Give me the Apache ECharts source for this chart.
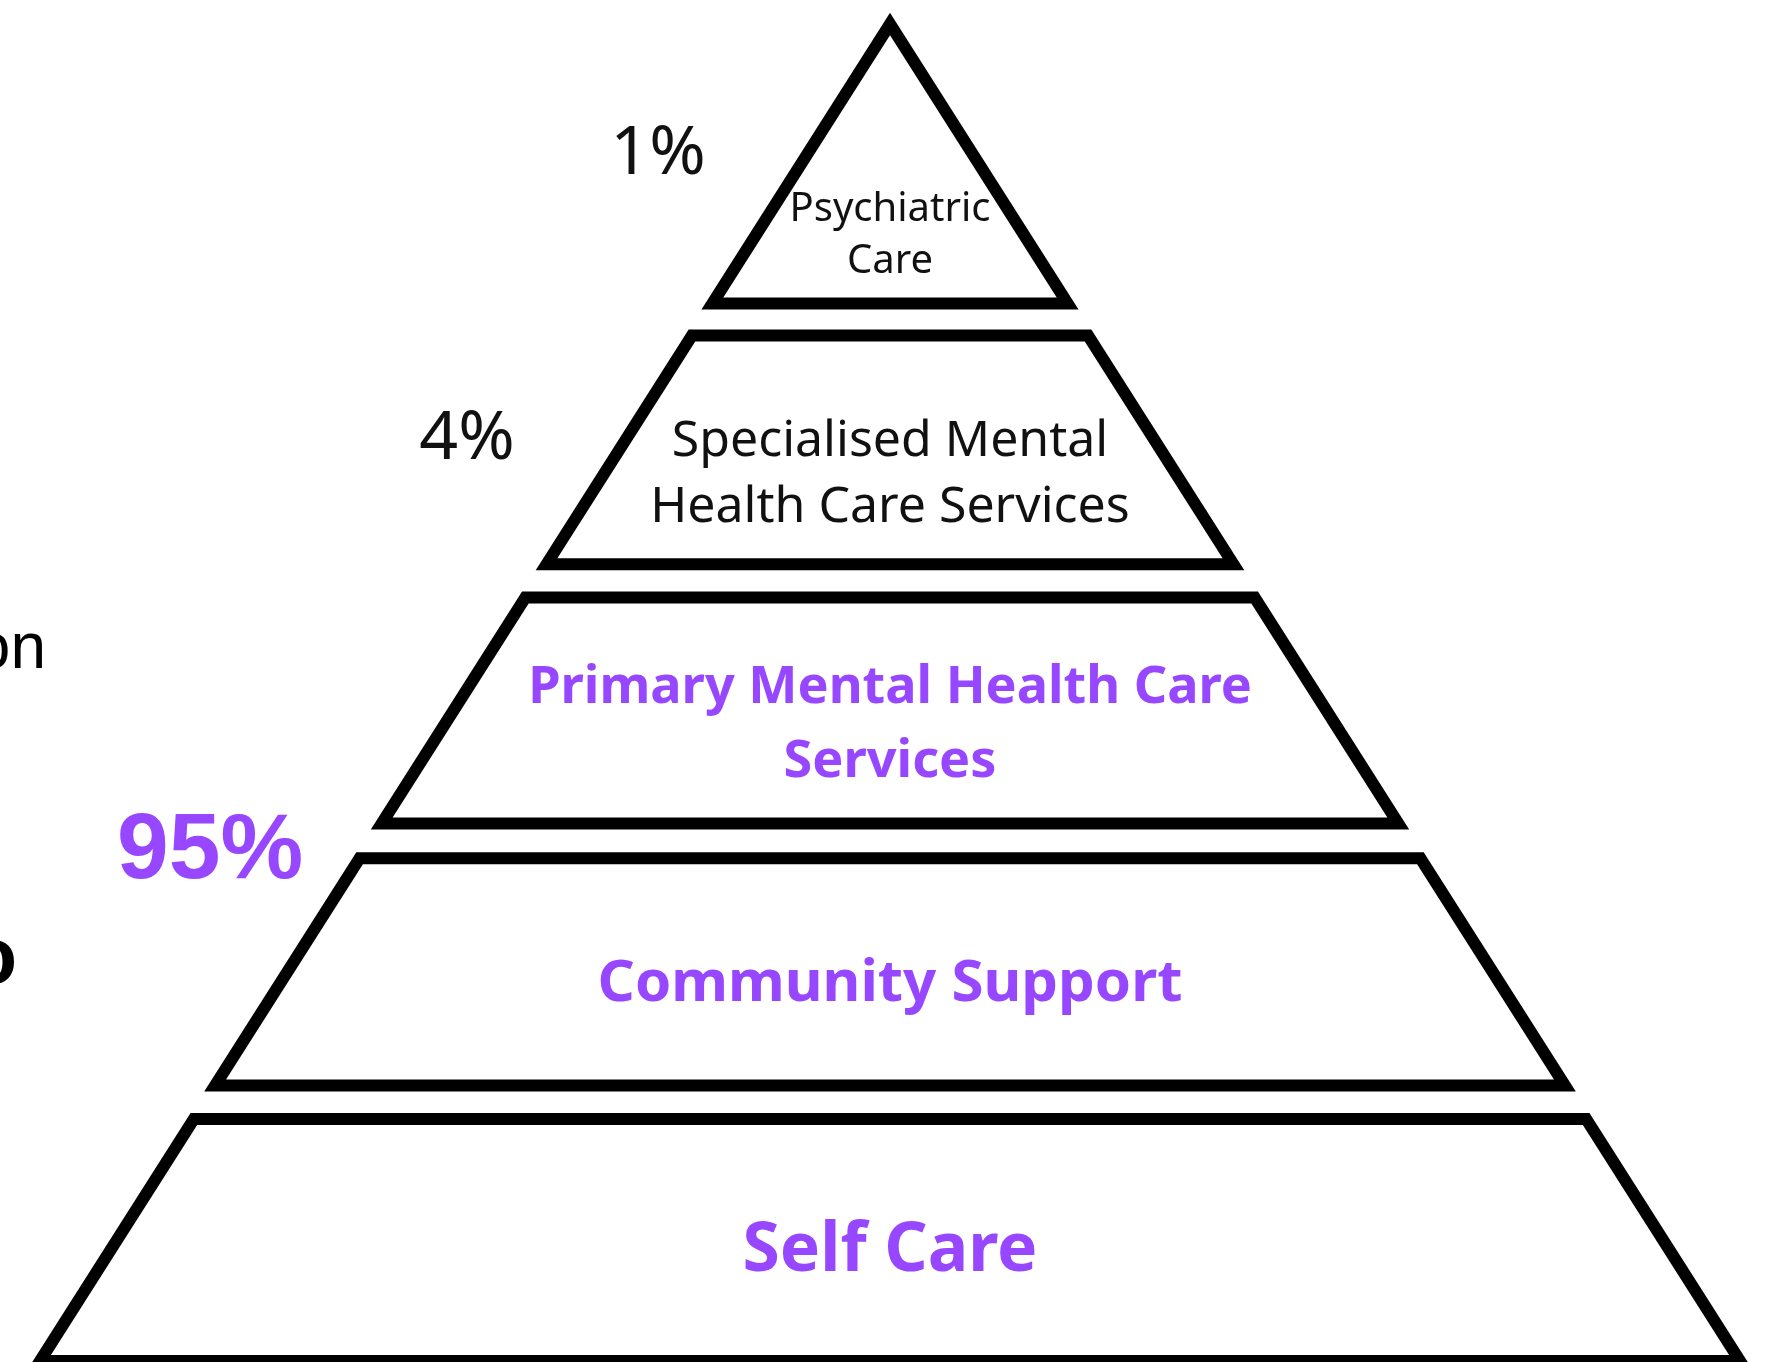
<!DOCTYPE html>
<html>
<head>
<meta charset="utf-8">
<script src="https://cdn.jsdelivr.net/npm/echarts@6/dist/echarts.min.js"></script>
<style>
  html, body { margin: 0; padding: 0; background: #ffffff; }
  #chart { width: 1771px; height: 1362px; }
</style>
</head>
<body>
<div id="chart"></div>
<script>
// ---- data (bottom level first) ----
const levels = ['Self Care', 'Community Support', 'Primary Mental Health Care Services', 'Specialised Mental Health Care Services', 'Psychiatric Care'];
const levelLabels = ['Self Care', 'Community Support', 'Primary Mental Health Care\nServices', 'Specialised Mental\nHealth Care Services', 'Psychiatric\nCare'];
// vertical extent of each level on a 0 (base) .. 100 (apex) scale
const bandStart = [0, 20.6, 40.2, 59.6, 79.1];
const bandEnd = [18.1, 37.6, 57.1, 76.7, 100];
const shareLabels = ['95%', '4%', '1%'];
const sideLabels = ['Population', 'to'];

// ---- styles ----
const PURPLE = '#9747FF';
const labelStyles = [
  { font: 'bold 67.7px "Noto Sans"', fill: PURPLE, lineHeight: 74, shift: 11.5 },
  { font: 'bold 58.2px "Noto Sans"', fill: PURPLE, lineHeight: 74, shift: 12.5 },
  { font: 'bold 52.2px "Noto Sans"', fill: PURPLE, lineHeight: 74, shift: 14.5 },
  { font: '50px "Noto Sans"', fill: '#111111', lineHeight: 66, shift: 25 },
  { font: '40px "Noto Sans"', fill: '#111111', lineHeight: 52, shift: 72 }
];

const APEX = 100;
function halfWidth(y) { return (APEX - y) / APEX; }

const chart = echarts.init(document.getElementById('chart'), null, { renderer: 'canvas' });

const option = {
  backgroundColor: '#ffffff',
  animation: false,
  grid: { left: 40, width: 1700, top: 24, height: 1337 },
  xAxis: { type: 'value', min: -1, max: 1, show: false },
  yAxis: { type: 'value', min: 0, max: 100, show: false },
  series: [{
    type: 'custom',
    clip: false,
    data: levels.map((name, i) => ({ name: name, value: [i, bandStart[i], bandEnd[i]] })),
    renderItem: function (params, api) {
      const i = api.value(0);
      const y0 = api.value(1);
      const y1 = api.value(2);
      const w0 = halfWidth(y0);
      const w1 = halfWidth(y1);
      let pts;
      if (w1 <= 0) {
        pts = [api.coord([-w0, y0]), api.coord([w0, y0]), api.coord([0, y1])];
      } else {
        pts = [api.coord([-w0, y0]), api.coord([w0, y0]), api.coord([w1, y1]), api.coord([-w1, y1])];
      }
      const c0 = api.coord([0, y0]);
      const c1 = api.coord([0, y1]);
      const st = labelStyles[i];
      return {
        type: 'group',
        children: [
          {
            type: 'polygon',
            shape: { points: pts },
            style: { fill: '#ffffff', stroke: '#000000', lineWidth: 12, lineJoin: 'miter', miterLimit: 10 }
          },
          {
            type: 'text',
            x: c0[0],
            y: (c0[1] + c1[1]) / 2 + st.shift,
            style: {
              text: levelLabels[i],
              font: st.font,
              fill: st.fill,
              align: 'center',
              verticalAlign: 'middle',
              lineHeight: st.lineHeight
            }
          }
        ]
      };
    }
  }],
  graphic: [
    { type: 'text', x: 210, y: 852.5, style: { text: shareLabels[0], font: 'bold 93px "Liberation Sans"', fill: PURPLE, align: 'center', verticalAlign: 'middle' } },
    { type: 'text', x: 467, y: 440, style: { text: shareLabels[1], font: '68px "Noto Sans"', fill: '#111111', align: 'center', verticalAlign: 'middle' } },
    { type: 'text', x: 658, y: 155, style: { text: shareLabels[2], font: '68px "Noto Sans"', fill: '#111111', align: 'center', verticalAlign: 'middle' } },
    { type: 'text', x: 46, y: 650, style: { text: sideLabels[0], font: '64px "Liberation Sans"', fill: '#000000', align: 'right', verticalAlign: 'middle' } },
    { type: 'text', x: 17, y: 961, style: { text: sideLabels[1], font: 'bold 80px "Liberation Sans"', fill: '#000000', align: 'right', verticalAlign: 'middle' } }
  ]
};

chart.setOption(option);
</script>
</body>
</html>
